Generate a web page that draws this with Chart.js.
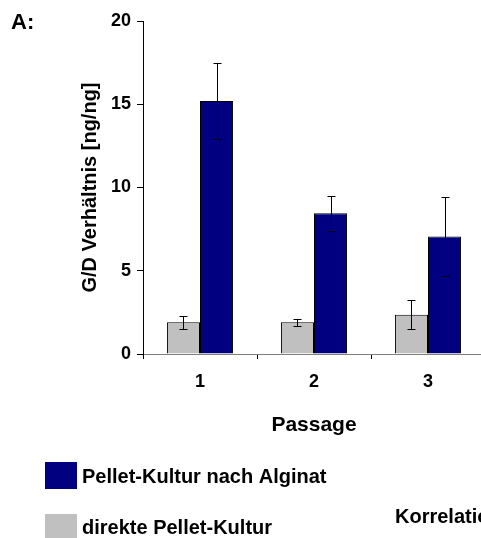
<!DOCTYPE html>
<html>
<head>
<meta charset="utf-8">
<script src="https://cdn.jsdelivr.net/npm/chart.js@4/dist/chart.umd.min.js"></script>
<style>
  html, body { margin: 0; padding: 0; background: #fff; overflow: hidden; width: 481px; height: 538px; }
  #wrap { position: absolute; left: 0; top: 0; width: 495px; height: 538px; }
  canvas { display: block; }
</style>
</head>
<body>
<div id="wrap"><canvas id="chart" width="495" height="538"></canvas></div>
<script>
// Passages
const categories = ['1', '2', '3'];
// G/D ratio, direct pellet culture (mean and SD)
const direktValues = [1.9, 1.9, 2.35];
const direktErrors = [0.4, 0.2, 0.87];
// G/D ratio, pellet culture after alginate (mean and SD)
const alginatValues = [15.2, 8.45, 7.05];
const alginatErrors = [2.3, 1.05, 2.35];
// Y axis ticks
const yTicks = [0, 5, 10, 15, 20];

const seriesNames = ['direkte Pellet-Kultur', 'Pellet-Kultur nach Alginat'];
const seriesColors = ['#c0c0c0', '#000080'];

const FONT = 'Arial, "Liberation Sans", sans-serif';

// Error bars with caps, drawn from each bar's own scale position
const errorBars = {
  id: 'errorBars',
  afterDatasetsDraw(chart) {
    const ctx = chart.ctx;
    const y = chart.scales.y;
    ctx.save();
    ctx.strokeStyle = '#000';
    ctx.lineWidth = 1;
    chart.data.datasets.forEach((ds, di) => {
      const meta = chart.getDatasetMeta(di);
      meta.data.forEach((bar, i) => {
        const v = ds.data[i], e = ds.errors[i];
        const x = Math.round(bar.x) + 0.5;
        const yHi = Math.round(y.getPixelForValue(v + e)) + 0.5;
        const yLo = Math.round(y.getPixelForValue(v - e)) + 0.5;
        ctx.beginPath();
        ctx.moveTo(x, yHi); ctx.lineTo(x, yLo);
        ctx.moveTo(x - 4, yHi); ctx.lineTo(x + 4, yHi);
        ctx.moveTo(x - 4, yLo); ctx.lineTo(x + 4, yLo);
        ctx.stroke();
      });
    });
    ctx.restore();
  }
};

// Panel letter, legend boxes and the neighbouring heading
const annotations = {
  id: 'annotations',
  afterDraw(chart) {
    const ctx = chart.ctx;
    ctx.save();
    ctx.fillStyle = '#000';
    ctx.textBaseline = 'alphabetic';
    ctx.textAlign = 'left';
    ctx.font = 'bold 22px ' + FONT;
    ctx.fillText('A:', 11, 29);

    const legendRows = [
      { name: seriesNames[1], color: seriesColors[1], boxTop: 462, baseline: 483 },
      { name: seriesNames[0], color: seriesColors[0], boxTop: 514, baseline: 534 }
    ];
    ctx.font = 'bold 20px ' + FONT;
    legendRows.forEach(r => {
      ctx.fillStyle = r.color;
      ctx.fillRect(45, r.boxTop, 32, 27);
      ctx.fillStyle = '#000';
      ctx.fillText(r.name, 82, r.baseline);
    });
    ctx.fillText('Korrelation', 395, 523);
    ctx.restore();
  }
};

new Chart(document.getElementById('chart'), {
  type: 'bar',
  data: {
    labels: categories,
    datasets: [
      {
        label: seriesNames[0],
        data: direktValues,
        errors: direktErrors,
        backgroundColor: seriesColors[0],
        borderColor: '#000',
        borderWidth: 1,
        categoryPercentage: 0.58,
        barPercentage: 1.0
      },
      {
        label: seriesNames[1],
        data: alginatValues,
        errors: alginatErrors,
        backgroundColor: seriesColors[1],
        borderColor: '#000',
        borderWidth: 1,
        categoryPercentage: 0.58,
        barPercentage: 1.0
      }
    ]
  },
  options: {
    responsive: false,
    animation: false,
    devicePixelRatio: 1,
    layout: { padding: { left: 0, top: 21, right: 10, bottom: 0 } },
    plugins: {
      legend: { display: false },
      tooltip: { enabled: false }
    },
    scales: {
      x: {
        grid: { drawOnChartArea: false, drawTicks: true, tickLength: 5, color: '#000', offset: true },
        border: { display: true, color: '#808080', width: 1 },
        ticks: { color: '#000', font: { family: FONT, size: 18, weight: 'bold' }, padding: 12 },
        title: {
          display: true, text: 'Passage', color: '#000',
          font: { family: FONT, size: 21, weight: 'bold' },
          padding: { top: 0, bottom: 100 }
        },
        afterFit(scale) { scale.height = 184; }
      },
      y: {
        min: 0,
        max: 20,
        afterBuildTicks(scale) { scale.ticks = yTicks.map(v => ({ value: v })); },
        grid: { drawOnChartArea: false, drawTicks: true, tickLength: 6, color: '#000' },
        border: { display: true, color: '#000', width: 1 },
        ticks: { color: '#000', font: { family: FONT, size: 18, weight: 'bold' }, padding: 6 },
        title: {
          display: true, text: 'G/D Verhältnis [ng/ng]', color: '#000',
          font: { family: FONT, size: 20, weight: 'bold' },
          padding: { top: 78, bottom: 0 }
        },
        afterFit(scale) { scale.width = 143; }
      }
    }
  },
  plugins: [errorBars, annotations]
});
</script>
</body>
</html>
